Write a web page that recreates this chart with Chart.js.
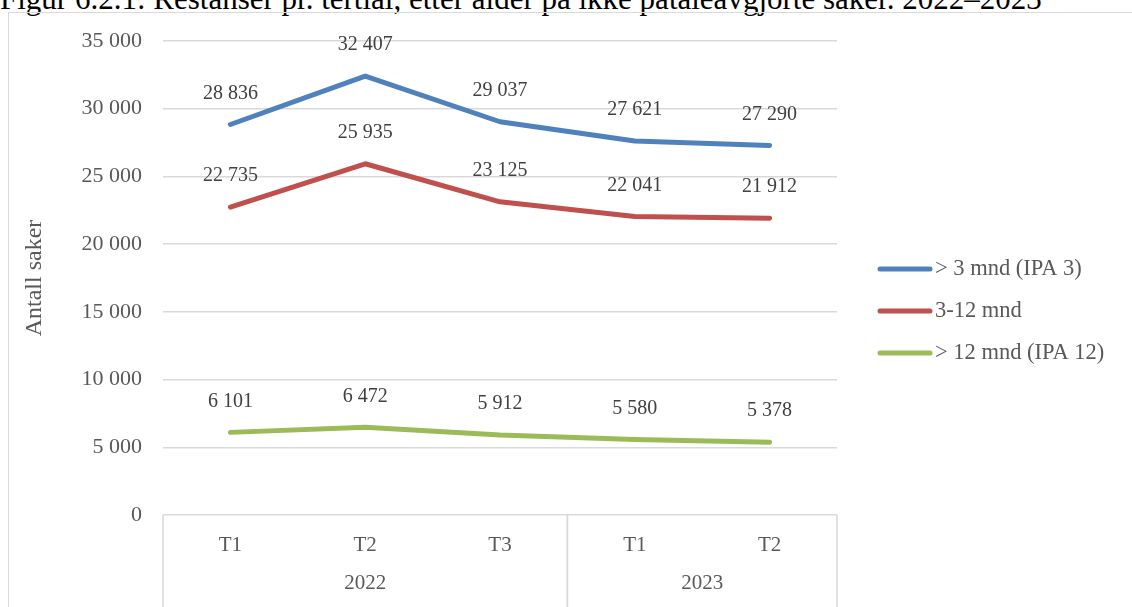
<!DOCTYPE html>
<html>
<head>
<meta charset="utf-8">
<script src="https://cdn.jsdelivr.net/npm/chart.js@4"></script>
<style>
  html, body { margin: 0; padding: 0; background: #fff; overflow: hidden; }
  #wrap { position: relative; width: 1132px; height: 607px; }
  #frame { position: absolute; left: 8px; top: 12px; width: 1200px; height: 700px; border: 1.5px solid #d9d9d9; }
  #title { position: absolute; left: 0; top: -19px; font: 31px "Liberation Serif", serif; color: #000; white-space: nowrap; }
  canvas { position: absolute; left: 0; top: 0; }
</style>
</head>
<body>
<div id="wrap">
  <div id="title">Figur 6.2.1: Restanser pr. tertial, etter alder på ikke påtaleavgjorte saker. 2022–2023</div>
  <div id="frame"></div>
  <canvas id="chart" width="1132" height="607"></canvas>
</div>
<script>
// chart data
const categories = ['T1', 'T2', 'T3', 'T1', 'T2'];
const years = ['2022', '2022', '2022', '2023', '2023'];
const over3 = [28836, 32407, 29037, 27621, 27290];
const mnd3to12 = [22735, 25935, 23125, 22041, 21912];
const over12 = [6101, 6472, 5912, 5580, 5378];
const seriesNames = ['> 3 mnd (IPA 3)', '3-12 mnd', '> 12 mnd (IPA 12)'];
const seriesColors = ['#4f81bd', '#c0504d', '#9bbb59'];

const FONT = "'Liberation Serif'";

function fmt(v) {
  return String(v).replace(/\B(?=(\d{3})+(?!\d))/g, ' ');
}

// value labels above each point
const pointLabels = {
  id: 'pointLabels',
  afterDatasetsDraw(chart) {
    const ctx = chart.ctx;
    ctx.save();
    ctx.font = '20px ' + FONT;
    ctx.fillStyle = '#404040';
    ctx.textAlign = 'center';
    ctx.textBaseline = 'middle';
    chart.data.datasets.forEach((ds, i) => {
      chart.getDatasetMeta(i).data.forEach((pt, j) => {
        ctx.fillText(fmt(ds.data[j]), pt.x, pt.y - 31);
      });
    });
    ctx.restore();
  }
};

// year row + group separators under the x axis
const yearAxis = {
  id: 'yearAxis',
  afterDraw(chart) {
    const ctx = chart.ctx;
    const x = chart.scales.x;
    const area = chart.chartArea;
    const step = (area.right - area.left) / categories.length;
    ctx.save();
    ctx.strokeStyle = '#d9d9d9';
    ctx.lineWidth = 1.5;
    ctx.font = '21px ' + FONT;
    ctx.fillStyle = '#595959';
    ctx.textAlign = 'center';
    ctx.textBaseline = 'middle';
    let start = 0;
    for (let i = 1; i <= years.length; i++) {
      if (i === years.length || years[i] !== years[start]) {
        const left = x.getPixelForValue(start) - step / 2;
        const right = x.getPixelForValue(i - 1) + step / 2;
        [left, right].forEach(px => {
          ctx.beginPath();
          ctx.moveTo(px, area.bottom);
          ctx.lineTo(px, chart.height);
          ctx.stroke();
        });
        ctx.fillText(years[start], (left + right) / 2, 583);
        start = i;
      }
    }
    ctx.restore();
  }
};

// legend on the right
const sideLegend = {
  id: 'sideLegend',
  afterDraw(chart) {
    const ctx = chart.ctx;
    ctx.save();
    ctx.font = '22.5px ' + FONT;
    ctx.fillStyle = '#595959';
    ctx.textBaseline = 'middle';
    ctx.lineCap = 'round';
    chart.data.datasets.forEach((ds, i) => {
      const y = 269 + i * 42;
      ctx.strokeStyle = ds.borderColor;
      ctx.lineWidth = 5;
      ctx.beginPath();
      ctx.moveTo(880, y);
      ctx.lineTo(930, y);
      ctx.stroke();
      ctx.fillText(ds.label, 935, y);
    });
    ctx.restore();
  }
};

const seriesData = [over3, mnd3to12, over12];

function draw() {
  new Chart(document.getElementById('chart'), {
    type: 'line',
    data: {
      labels: categories,
      datasets: seriesData.map((d, i) => ({
        label: seriesNames[i],
        data: d,
        borderColor: seriesColors[i],
        backgroundColor: seriesColors[i],
        borderWidth: 5,
        borderCapStyle: 'round',
        borderJoinStyle: 'round',
        pointRadius: 0,
        tension: 0
      }))
    },
    options: {
      responsive: false,
      animation: false,
      layout: { padding: { top: 41, right: 295, left: 0, bottom: 0 } },
      plugins: {
        legend: { display: false },
        tooltip: { enabled: false }
      },
      scales: {
        x: {
          offset: true,
          grid: { display: false },
          border: { display: false },
          ticks: { color: '#595959', font: { family: FONT, size: 21 }, padding: 10, maxRotation: 0 },
          afterFit(scale) { scale.height = 92; }
        },
        y: {
          min: 0,
          max: 35000,
          grid: { color: '#d9d9d9', lineWidth: 1.5, drawTicks: false },
          border: { display: false },
          ticks: {
            stepSize: 5000,
            padding: 21,
            color: '#595959',
            font: { family: FONT, size: 22 },
            callback: v => fmt(v)
          },
          title: {
            display: true,
            text: 'Antall saker',
            color: '#595959',
            font: { family: FONT, size: 24 },
            padding: { top: 20, bottom: 0 }
          },
          afterFit(scale) { scale.width = 163; }
        }
      }
    },
    plugins: [pointLabels, yearAxis, sideLegend]
  });
}

document.fonts.load('20px ' + FONT).then(draw, draw);
</script>
</body>
</html>
